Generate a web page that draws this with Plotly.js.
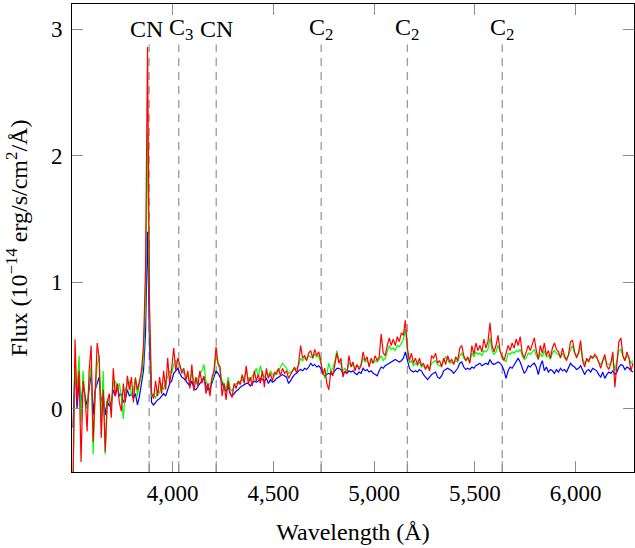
<!DOCTYPE html>
<html>
<head>
<meta charset="utf-8">
<script src="https://cdn.plot.ly/plotly-3.0.1.min.js"></script>
<style>html,body{margin:0;padding:0;background:#fff;}#chart{width:635px;height:548px;}</style>
</head>
<body>
<div id="chart"></div>
<script>
// Wavelength grid (Å)
const wavelength = [
3505,3515,3525,3535,3545,3555,3565,3575,3585,3595,3605,3615,3625,3635,3645,3655,3665,3675,3685,3695,
3705,3715,3725,3735,3745,3755,3765,3775,3785,3795,3805,3815,3825,3835,3845,3855,3865,3875,3885,3895,
3905,3915,3925,3935,3945,3955,3965,3975,3985,3995,4005,4015,4025,4035,4045,4055,4065,4075,4085,4095,
4105,4115,4125,4135,4145,4155,4165,4175,4185,4195,4205,4215,4225,4235,4245,4255,4265,4275,4285,4295,
4305,4315,4325,4335,4345,4355,4365,4375,4385,4395,4405,4415,4425,4435,4445,4455,4465,4475,4485,4495,
4505,4515,4525,4535,4545,4555,4565,4575,4585,4595,4605,4615,4625,4635,4645,4655,4665,4675,4685,4695,
4705,4715,4725,4735,4745,4755,4765,4775,4785,4795,4805,4815,4825,4835,4845,4855,4865,4875,4885,4895,
4905,4915,4925,4935,4945,4955,4965,4975,4985,4995,5005,5015,5025,5035,5045,5055,5065,5075,5085,5095,
5105,5115,5125,5135,5145,5155,5165,5175,5185,5195,5205,5215,5225,5235,5245,5255,5265,5275,5285,5295,
5305,5315,5325,5335,5345,5355,5365,5375,5385,5395,5405,5415,5425,5435,5445,5455,5465,5475,5485,5495,
5505,5515,5525,5535,5545,5555,5565,5575,5585,5595,5605,5615,5625,5635,5645,5655,5665,5675,5685,5695,
5705,5715,5725,5735,5745,5755,5765,5775,5785,5795,5805,5815,5825,5835,5845,5855,5865,5875,5885,5895,
5905,5915,5925,5935,5945,5955,5965,5975,5985,5995,6005,6015,6025,6035,6045,6055,6065,6075,6085,6095,
6105,6115,6125,6135,6145,6155,6165,6175,6185,6195,6205,6215,6225,6235,6245,6255,6265,6275,6285
];

// Flux (1e-14 erg/s/cm^2/Å)
const fluxRed = [
-0.6,0.55,0.05,0.3,-0.42,0.22,0.1,-0.18,0.3,0.5,-0.26,0.2,0.52,0.4,-0.23,0.15,-0.34,0.05,0.12,-0.07,
0.32,0.1,0.2,0.05,-0.02,0.2,0.05,0.26,0.15,0.25,0.05,0.24,0.15,0.22,0.3,0.5,1.1,2.86,0.8,0.12,
0.08,0.22,0.1,0.25,0.12,0.3,0.15,0.4,0.2,0.32,0.48,0.3,0.4,0.35,0.28,0.32,0.22,0.3,0.16,0.35,
0.14,0.25,0.18,0.3,0.2,0.26,0.12,0.2,0.1,0.25,0.3,0.49,0.36,0.33,0.1,0.2,0.07,0.22,0.12,0.09,
0.2,0.16,0.22,0.19,0.27,0.2,0.34,0.2,0.25,0.18,0.3,0.22,0.27,0.2,0.3,0.17,0.32,0.24,0.28,0.22,
0.29,0.27,0.32,0.26,0.32,0.28,0.3,0.24,0.27,0.3,0.33,0.28,0.36,0.5,0.4,0.42,0.38,0.44,0.46,0.4,
0.47,0.42,0.45,0.38,0.27,0.32,0.2,0.15,0.3,0.26,0.35,0.44,0.36,0.4,0.25,0.3,0.28,0.42,0.33,0.37,
0.3,0.35,0.31,0.34,0.45,0.38,0.41,0.33,0.4,0.36,0.42,0.38,0.41,0.59,0.44,0.42,0.5,0.56,0.5,0.55,
0.5,0.57,0.53,0.6,0.58,0.7,0.48,0.38,0.44,0.36,0.4,0.35,0.4,0.34,0.36,0.31,0.35,0.3,0.42,0.4,
0.44,0.36,0.38,0.33,0.4,0.35,0.42,0.37,0.39,0.35,0.41,0.38,0.48,0.5,0.42,0.38,0.41,0.36,0.5,0.43,
0.52,0.46,0.5,0.45,0.55,0.48,0.53,0.68,0.5,0.45,0.5,0.58,0.46,0.41,0.38,0.45,0.5,0.46,0.52,0.48,
0.55,0.5,0.57,0.44,0.4,0.45,0.5,0.46,0.52,0.56,0.46,0.39,0.5,0.44,0.52,0.42,0.46,0.4,0.48,0.52,
0.47,0.45,0.4,0.48,0.42,0.38,0.43,0.53,0.54,0.45,0.4,0.45,0.54,0.38,0.33,0.4,0.37,0.42,0.4,0.43,
0.41,0.36,0.32,0.38,0.43,0.34,0.31,0.36,0.45,0.17,0.38,0.53,0.56,0.42,0.38,0.45,0.4,0.3,0.36
];

const fluxGreen = [
-0.6,0.32,0.15,0.42,-0.1,0.3,0.05,0.0,0.2,0.35,-0.36,0.1,0.35,0.42,-0.1,0.3,-0.36,0.08,0.05,0.0,
0.2,0.22,0.15,0.2,0.1,-0.08,0.15,0.2,0.22,0.1,0.15,0.25,0.1,0.2,0.25,0.4,0.85,2.18,0.7,0.1,
0.12,0.08,0.15,0.12,0.2,0.15,0.22,0.25,0.3,0.28,0.35,0.38,0.36,0.33,0.3,0.28,0.27,0.25,0.22,0.28,
0.22,0.2,0.24,0.28,0.3,0.35,0.22,0.18,0.2,0.22,0.28,0.43,0.35,0.3,0.22,0.2,0.15,0.25,0.16,0.14,
0.18,0.2,0.2,0.22,0.22,0.25,0.3,0.24,0.22,0.26,0.28,0.32,0.25,0.34,0.28,0.25,0.28,0.26,0.3,0.27,
0.26,0.3,0.3,0.33,0.36,0.34,0.32,0.28,0.29,0.3,0.31,0.32,0.34,0.4,0.38,0.4,0.39,0.42,0.41,0.4,
0.43,0.41,0.42,0.36,0.3,0.24,0.28,0.36,0.3,0.32,0.38,0.46,0.38,0.35,0.3,0.32,0.3,0.36,0.35,0.34,
0.33,0.34,0.33,0.35,0.4,0.37,0.38,0.35,0.37,0.36,0.38,0.37,0.39,0.42,0.38,0.4,0.45,0.5,0.47,0.48,
0.46,0.5,0.49,0.52,0.55,0.63,0.45,0.36,0.38,0.34,0.36,0.34,0.37,0.33,0.34,0.32,0.33,0.31,0.36,0.37,
0.38,0.35,0.34,0.35,0.38,0.41,0.39,0.36,0.37,0.36,0.38,0.37,0.42,0.44,0.4,0.38,0.4,0.37,0.44,0.41,
0.45,0.43,0.44,0.42,0.46,0.45,0.47,0.56,0.46,0.43,0.45,0.5,0.45,0.42,0.4,0.37,0.44,0.43,0.45,0.44,
0.46,0.45,0.47,0.42,0.39,0.4,0.44,0.43,0.45,0.47,0.42,0.39,0.44,0.41,0.46,0.41,0.42,0.39,0.44,0.46,
0.44,0.43,0.41,0.44,0.4,0.4,0.42,0.47,0.5,0.44,0.42,0.43,0.49,0.4,0.36,0.38,0.39,0.4,0.41,0.41,
0.4,0.37,0.35,0.38,0.4,0.36,0.35,0.36,0.4,0.3,0.37,0.46,0.47,0.41,0.38,0.42,0.4,0.36,0.38
];

const fluxBlue = [
-0.15,0.35,0.0,0.22,0.05,0.18,0.1,0.02,0.15,0.28,-0.05,0.15,0.2,0.25,0.05,0.12,-0.05,0.06,0.02,0.05,
0.15,0.1,0.18,0.1,0.12,0.05,0.08,0.15,0.1,0.12,0.08,0.12,0.03,0.1,0.2,0.3,0.6,1.4,0.5,0.05,
0.03,0.05,0.07,0.08,0.1,0.12,0.1,0.15,0.2,0.22,0.28,0.3,0.32,0.28,0.25,0.24,0.22,0.2,0.18,0.22,
0.16,0.15,0.18,0.2,0.22,0.25,0.18,0.15,0.16,0.2,0.25,0.3,0.28,0.25,0.2,0.16,0.14,0.18,0.12,0.1,
0.12,0.14,0.15,0.17,0.18,0.19,0.2,0.2,0.18,0.2,0.22,0.21,0.22,0.24,0.23,0.22,0.24,0.2,0.23,0.21,
0.22,0.24,0.25,0.26,0.27,0.26,0.25,0.2,0.22,0.25,0.27,0.28,0.3,0.31,0.3,0.32,0.31,0.33,0.36,0.34,
0.35,0.33,0.34,0.32,0.28,0.26,0.27,0.28,0.27,0.28,0.3,0.32,0.32,0.31,0.28,0.29,0.28,0.3,0.29,0.3,
0.28,0.27,0.29,0.28,0.32,0.3,0.31,0.29,0.3,0.28,0.27,0.26,0.3,0.33,0.32,0.34,0.35,0.36,0.37,0.38,
0.39,0.38,0.37,0.38,0.4,0.45,0.38,0.32,0.3,0.29,0.3,0.29,0.31,0.3,0.27,0.25,0.23,0.25,0.27,0.28,
0.29,0.25,0.24,0.26,0.3,0.31,0.32,0.31,0.3,0.28,0.3,0.32,0.36,0.37,0.33,0.31,0.32,0.31,0.33,0.32,
0.34,0.35,0.36,0.34,0.35,0.36,0.35,0.39,0.36,0.35,0.36,0.37,0.36,0.34,0.3,0.24,0.3,0.33,0.32,0.35,
0.38,0.4,0.37,0.33,0.28,0.3,0.34,0.33,0.35,0.36,0.33,0.27,0.34,0.38,0.3,0.33,0.29,0.31,0.3,0.28,
0.31,0.29,0.32,0.3,0.31,0.29,0.32,0.36,0.34,0.33,0.31,0.32,0.34,0.3,0.27,0.3,0.31,0.29,0.32,0.31,
0.3,0.27,0.25,0.29,0.24,0.27,0.29,0.28,0.3,0.27,0.29,0.33,0.35,0.34,0.31,0.33,0.32,0.3,0.29
];

// Molecular band markers
const lineWavelengths = [3883, 4030, 4216, 4737, 5165, 5636];
const lineLabels = ["CN", "C<sub>3</sub>", "CN", "C<sub>2</sub>", "C<sub>2</sub>", "C<sub>2</sub>"];
const labelShifts = [-3, 2, 0, 0, 0, 0];
const labelLevel = 3.0;
const lineTop = 2.88;

const xTickValues = [4000, 4500, 5000, 5500, 6000];
const yTickValues = [0, 1, 2, 3];
const xRange = [3500, 6290];
const yRange = [-0.5, 3.2];

const FONT = "Liberation Serif, Times New Roman, serif";

const traces = [
  {x: wavelength, y: fluxBlue, mode: "lines", line: {color: "#0000ff", width: 1.2}, hoverinfo: "skip"},
  {x: wavelength, y: fluxGreen, mode: "lines", line: {color: "#00ff00", width: 1.2}, hoverinfo: "skip"},
  {x: wavelength, y: fluxRed, mode: "lines", line: {color: "#ff0000", width: 1.2}, hoverinfo: "skip"}
];

const shapes = [];
const annotations = [];
lineWavelengths.forEach((w, i) => {
  shapes.push({type: "line", xref: "x", yref: "y", x0: w, x1: w, y0: yRange[0], y1: lineTop,
    line: {color: "#9a9a9a", width: 1.3, dash: "8px,6px"}, layer: "below"});
  shapes.push({type: "line", xref: "x", yref: "paper", ysizemode: "pixel", yanchor: 0,
    x0: w, x1: w, y0: 0, y1: 11, line: {color: "#8c8c8c", width: 1}});
  annotations.push({x: w, y: labelLevel, xref: "x", yref: "y", text: lineLabels[i], showarrow: false,
    xshift: labelShifts[i],
    font: {family: FONT, size: 24, color: "#000"}, xanchor: "center", yanchor: "middle"});
});

const axisCommon = {
  showgrid: false, zeroline: false, showline: true, linecolor: "#000", linewidth: 1,
  mirror: "ticks", ticks: "inside", ticklen: 11, tickwidth: 1, tickcolor: "#8c8c8c",
  tickfont: {family: FONT, size: 23, color: "#000"}
};

const layout = {
  width: 635, height: 548,
  margin: {l: 72, r: 1, t: 4, b: 76},
  paper_bgcolor: "#fff", plot_bgcolor: "#fff",
  showlegend: false,
  xaxis: Object.assign({}, axisCommon, {
    range: xRange, tickvals: xTickValues, tickformat: ",d",
    title: {text: "Wavelength (Å)", font: {family: FONT, size: 24, color: "#000"}, standoff: 18}
  }),
  yaxis: Object.assign({}, axisCommon, {
    range: yRange, tickvals: yTickValues, ticklabelstandoff: 4,
    title: {text: "Flux (10<sup>−14</sup> erg/s/cm<sup>2</sup>/Å)", font: {family: FONT, size: 24, color: "#000"}, standoff: 16}
  }),
  shapes: shapes,
  annotations: annotations
};

Plotly.newPlot("chart", traces, layout, {staticPlot: true, displayModeBar: false});
</script>
</body>
</html>
